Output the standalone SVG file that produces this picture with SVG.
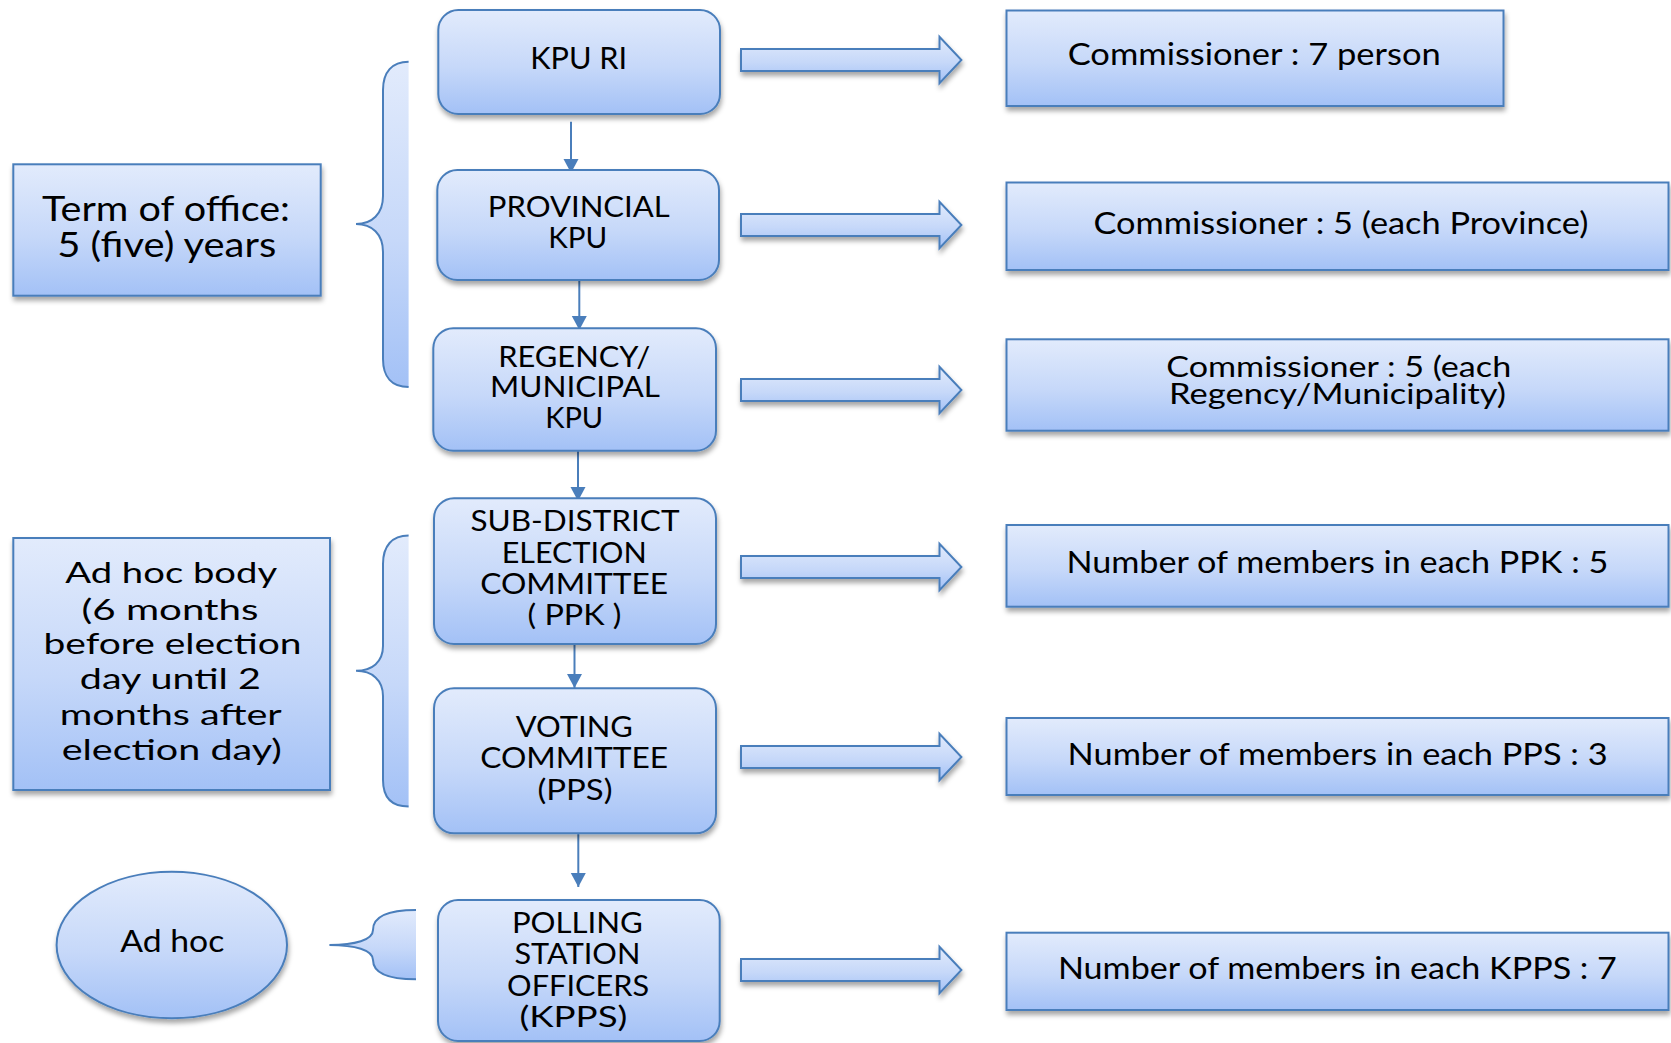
<svg xmlns="http://www.w3.org/2000/svg" width="1671" height="1043" viewBox="0 0 1671 1043">
<defs>
<linearGradient id="g" x1="0" y1="0" x2="0" y2="1">
<stop offset="0" stop-color="#e2ebfc"/>
<stop offset="0.55" stop-color="#c6d8f9"/>
<stop offset="1" stop-color="#a3c1f6"/>
</linearGradient>
<filter id="sh" x="-10%" y="-10%" width="120%" height="130%">
<feDropShadow dx="1" dy="4" stdDeviation="2.5" flood-color="#000" flood-opacity="0.35"/>
</filter>
<marker id="ah" markerUnits="userSpaceOnUse" markerWidth="16" markerHeight="16" refX="14" refY="7.5" orient="auto">
<path d="M0,0 L14,7.5 L0,15 Z" fill="#4a7ebb"/>
</marker>
<path id="ba" d="M741,49 H939.5 V36.7 L961.4,60 L939.5,83.3 V71 H741 Z"/>
</defs>
<style>
.box{fill:url(#g);stroke:#4a7ebb;stroke-width:2;filter:url(#sh)}
.t{font-family:Lato,"Open Sans","DejaVu Sans",sans-serif;font-size:30px;fill:#000;text-anchor:middle}
.m{font-size:29px}
.s{font-size:28px}
.big{font-size:35px}
.con{stroke:#4a7ebb;stroke-width:2;fill:none;marker-end:url(#ah)}
.bf{fill:url(#g);stroke:none}
.bs{fill:none;stroke:#4a7ebb;stroke-width:2}
</style>

<g id="connectors">
<line class="con" x1="571" y1="121.7" x2="571" y2="173"/>
<line class="con" x1="579.3" y1="280" x2="579.3" y2="330"/>
<line class="con" x1="578" y1="451" x2="578" y2="501"/>
<line class="con" x1="574.5" y1="644" x2="574.5" y2="688"/>
<line class="con" x1="578.3" y1="834" x2="578.3" y2="887"/>
<g id="block-arrows">
<use href="#ba" class="box"/>
<use href="#ba" class="box" transform="translate(0,165)"/>
<use href="#ba" class="box" transform="translate(0,330)"/>
<use href="#ba" class="box" transform="translate(0,507)"/>
<use href="#ba" class="box" transform="translate(0,697)"/>
<use href="#ba" class="box" transform="translate(0,910)"/>
</g>
</g>

<g id="brace-term">
<path class="bf" d="M408.6,61.7 C392,61.7 383,72 383,90 V196 C383,214 372,224 356,224 C372,224 383,234 383,252 V359 C383,377 392,387 408.6,387 Z"/>
<path class="bs" d="M408.6,61.7 C392,61.7 383,72 383,90 V196 C383,214 372,224 356,224 C372,224 383,234 383,252 V359 C383,377 392,387 408.6,387"/>
</g>
<g id="brace-adhoc-body">
<path class="bf" d="M408.6,535.5 C392,535.5 383,546 383,564 V646 C383,662 372,670.8 356,670.8 C372,670.8 383,680 383,696 V780 C383,798 392,806.5 408.6,806.5 Z"/>
<path class="bs" d="M408.6,535.5 C392,535.5 383,546 383,564 V646 C383,662 372,670.8 356,670.8 C372,670.8 383,680 383,696 V780 C383,798 392,806.5 408.6,806.5"/>
</g>
<g id="brace-adhoc">
<path class="bf" d="M416,910 C390,910 373,915 373,930 C373,940 355,945 329.4,945 C355,945 373,950 373,960 C373,974 390,979.3 416,979.3 Z"/>
<path class="bs" d="M416,910 C390,910 373,915 373,930 C373,940 355,945 329.4,945 C355,945 373,950 373,960 C373,974 390,979.3 416,979.3"/>
</g>

<g id="term">
<rect class="box" x="13.3" y="164.3" width="307.4" height="131.4"/>
<text class="t big" x="166" y="221" textLength="248" lengthAdjust="spacingAndGlyphs">Term of office:</text>
<text class="t big" x="166.7" y="256.7" textLength="219" lengthAdjust="spacingAndGlyphs">5 (five) years</text>
</g>

<g id="adhoc-body">
<rect class="box" x="13.3" y="538" width="316.7" height="252"/>
<text class="t m" x="171.2" y="583.3" textLength="212" lengthAdjust="spacingAndGlyphs">Ad hoc body</text>
<text class="t m" x="170" y="620" textLength="177" lengthAdjust="spacingAndGlyphs">(6 months</text>
<text class="t m" x="172.5" y="654" textLength="258" lengthAdjust="spacingAndGlyphs">before election</text>
<text class="t m" x="170.3" y="689.3" textLength="181" lengthAdjust="spacingAndGlyphs">day until 2</text>
<text class="t m" x="170.8" y="725" textLength="222" lengthAdjust="spacingAndGlyphs">months after</text>
<text class="t m" x="171.7" y="760" textLength="220" lengthAdjust="spacingAndGlyphs">election day)</text>
</g>

<g id="adhoc">
<ellipse class="box" cx="171.8" cy="945" rx="115.2" ry="73.3"/>
<text class="t" x="172.3" y="951.7" textLength="104" lengthAdjust="spacingAndGlyphs">Ad hoc</text>
</g>

<g id="kpu-ri">
<rect class="box" x="438.3" y="10" width="281.7" height="104" rx="20"/>
<text class="t" x="578.7" y="69.3" textLength="97" lengthAdjust="spacingAndGlyphs">KPU RI</text>
</g>

<g id="provincial">
<rect class="box" x="437.3" y="170" width="281.7" height="110" rx="20"/>
<text class="t m" x="578.8" y="217.3" textLength="182" lengthAdjust="spacingAndGlyphs">PROVINCIAL</text>
<text class="t m" x="577.8" y="248.3" textLength="59" lengthAdjust="spacingAndGlyphs">KPU</text>
</g>

<g id="regency">
<rect class="box" x="433.3" y="328.3" width="282.7" height="122.4" rx="20"/>
<text class="t m" x="574.2" y="366.7" textLength="152" lengthAdjust="spacingAndGlyphs">REGENCY/</text>
<text class="t m" x="575" y="397.3" textLength="170" lengthAdjust="spacingAndGlyphs">MUNICIPAL</text>
<text class="t m" x="574.2" y="428.3" textLength="58" lengthAdjust="spacingAndGlyphs">KPU</text>
</g>

<g id="ppk">
<rect class="box" x="434" y="498.3" width="282" height="145.7" rx="20"/>
<text class="t m" x="575" y="531" textLength="209" lengthAdjust="spacingAndGlyphs">SUB-DISTRICT</text>
<text class="t m" x="574.2" y="562.7" textLength="145" lengthAdjust="spacingAndGlyphs">ELECTION</text>
<text class="t m" x="574.2" y="594" textLength="188" lengthAdjust="spacingAndGlyphs">COMMITTEE</text>
<text class="t m" x="574.5" y="625" textLength="94" lengthAdjust="spacingAndGlyphs">( PPK )</text>
</g>

<g id="pps">
<rect class="box" x="434" y="688.3" width="282" height="145" rx="20"/>
<text class="t m" x="574.3" y="737.3" textLength="117" lengthAdjust="spacingAndGlyphs">VOTING</text>
<text class="t m" x="574.2" y="768.3" textLength="188" lengthAdjust="spacingAndGlyphs">COMMITTEE</text>
<text class="t m" x="575" y="800" textLength="75" lengthAdjust="spacingAndGlyphs">(PPS)</text>
</g>

<g id="kpps">
<rect class="box" x="438" y="900" width="281.7" height="141" rx="20"/>
<text class="t m" x="577.4" y="933.3" textLength="131" lengthAdjust="spacingAndGlyphs">POLLING</text>
<text class="t m" x="577.4" y="964.3" textLength="126" lengthAdjust="spacingAndGlyphs">STATION</text>
<text class="t m" x="578.1" y="995.7" textLength="142" lengthAdjust="spacingAndGlyphs">OFFICERS</text>
<text class="t m" x="573.4" y="1026.7" textLength="108" lengthAdjust="spacingAndGlyphs">(KPPS)</text>
</g>

<g id="info-kpu-ri">
<rect class="box" x="1006.5" y="10.5" width="497" height="95.5"/>
<text class="t" x="1254.2" y="65" textLength="373" lengthAdjust="spacingAndGlyphs">Commissioner : 7 person</text>
</g>
<g id="info-provincial">
<rect class="box" x="1006.5" y="182.5" width="662" height="87.5"/>
<text class="t" x="1340.9" y="234.3" textLength="495" lengthAdjust="spacingAndGlyphs">Commissioner : 5 (each Province)</text>
</g>
<g id="info-regency">
<rect class="box" x="1006.5" y="339.3" width="662" height="91.4"/>
<text class="t s" x="1338.7" y="376.7" textLength="345" lengthAdjust="spacingAndGlyphs">Commissioner : 5 (each</text>
<text class="t s" x="1337.6" y="403.8" textLength="337" lengthAdjust="spacingAndGlyphs">Regency/Municipality)</text>
</g>
<g id="info-ppk">
<rect class="box" x="1006.5" y="525" width="662" height="81.7"/>
<text class="t" x="1337.4" y="573.3" textLength="542" lengthAdjust="spacingAndGlyphs">Number of members in each PPK : 5</text>
</g>
<g id="info-pps">
<rect class="box" x="1006.5" y="718" width="662" height="77"/>
<text class="t" x="1337.6" y="765" textLength="540" lengthAdjust="spacingAndGlyphs">Number of members in each PPS : 3</text>
</g>
<g id="info-kpps">
<rect class="box" x="1006.5" y="932.7" width="662" height="77.3"/>
<text class="t" x="1337.4" y="979.3" textLength="559" lengthAdjust="spacingAndGlyphs">Number of members in each KPPS : 7</text>
</g>
</svg>
